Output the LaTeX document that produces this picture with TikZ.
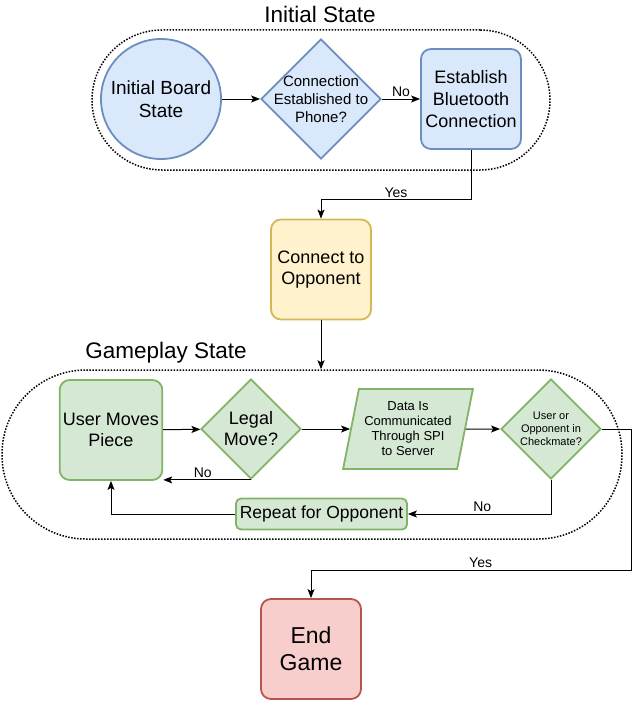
\documentclass[tikz,border=0pt]{standalone}
\usepackage{xcolor}
\usepackage{fontspec}
\setmainfont{Liberation Sans}
\usepackage{tikz}
\usetikzlibrary{shapes, arrows.meta, positioning, calc}
\definecolor{bluefill}{HTML}{DAE8FC}
\definecolor{blueline}{HTML}{6C8EBF}
\definecolor{greenfill}{HTML}{D5E8D4}
\definecolor{greenline}{HTML}{82B366}
\definecolor{yellowfill}{HTML}{FFF2CC}
\definecolor{yellowline}{HTML}{D6B656}
\definecolor{redfill}{HTML}{F8CECC}
\definecolor{redline}{HTML}{B85450}
\tikzset{
    startstate/.style={
        circle, draw=blueline, fill=bluefill, line width=1.8pt,
        minimum size=120pt, inner sep=2pt, align=center,
        font=\fontsize{19}{23}\selectfont
    },
    decision/.style={diamond, draw, line width=1.8pt, inner sep=0pt},
    process/.style={rectangle, rounded corners=10pt, draw, line width=1.8pt, minimum width=100pt, minimum height=100pt, align=center, font=\fontsize{18}{21.6}\selectfont},
    io/.style={trapezium, trapezium left angle=76, trapezium right angle=104, trapezium stretches=true, minimum width=130pt, minimum height=80pt, draw=greenline, fill=greenfill, line width=1.8pt, align=center, font=\fontsize{13}{15}\selectfont},
    % Group Styles
    group/.style={rectangle, draw, line width=1.5pt, dash pattern=on 1.5pt off 1.5pt},
    grouptitle/.style={font=\fontsize{22.5}{27}\selectfont},
    flow/.style={line width=1pt, -{Stealth[length=9pt, width=7pt, inset=2pt]}},
    tag/.style={font=\fontsize{14}{17}\selectfont, inner sep=2pt}
}
\begin{document}
\begin{tikzpicture}[x=1pt, y=-1pt]
        \useasboundingbox (0, 0) rectangle (640, 701);
        % Groups
        \node [group, rounded corners=70pt, minimum width=458pt, minimum height=140pt] (initgrp) at (321, 100) {};
        \node [group, rounded corners=84pt, minimum width=620pt, minimum height=169pt] (gamegrp) at (312, 454.5) {};
        \node [grouptitle] (inittitle) at (320, 14) {Initial State};
        \node [grouptitle] (gametitle) at (166, 353) {Gameplay State};

        % Layout
        \node [startstate] (board) at (161, 99) {Initial Board\\State};
        \node [decision, draw=blueline, fill=bluefill, minimum width=120pt, minimum height=120pt,
            label={[align=center, font=\fontsize{15}{18}\selectfont]center:Connection\\Established to\\Phone?}] (phone) at (321, 99) {};
        \node [process, draw=blueline, fill=bluefill] (bt) at (471, 99) {Establish\\Bluetooth\\Connection};
        \node [process, draw=yellowline, fill=yellowfill] (opp) at (321, 269.5) {Connect to\\Opponent};
        \node [process, draw=greenline, fill=greenfill] (user) at (111, 430) {User Moves\\Piece};
        \node [decision, draw=greenline, fill=greenfill, minimum width=100pt, minimum height=100pt,
            label={[align=center, font=\fontsize{18}{21}\selectfont]center:Legal\\Move?}] (legal) at (251, 429) {};
        \node [io] (data) at (408, 429) {Data Is\\Communicated\\Through SPI\\to Server};
        \node [decision, draw=greenline, fill=greenfill, minimum width=100pt, minimum height=100pt,
            label={[align=center, font=\fontsize{11}{13}\selectfont]center:User or\\Opponent in\\Checkmate?}] (mate) at (551, 429) {};
        \node [process, draw=greenline, fill=greenfill, rounded corners=5pt, minimum width=171pt, minimum height=31pt, font=\fontsize{17.5}{21}\selectfont] (again) at (321.5, 514) {Repeat for Opponent};
        \node [process, draw=redline, fill=redfill, font=\fontsize{23}{27}\selectfont] (endg) at (311, 649) {End\\Game};
        \coordinate (yesturn) at (631, 570);

        % Flows
        \draw [flow] (board) -- (phone);
        \draw [flow] (phone) -- node [tag, above] {No} (bt);
        \draw [flow] (bt.south) -- ++(0, 50) -| node [tag, above, pos=0.25] {Yes} (opp.north);
        \draw [flow] (opp.south) -- (opp.south |- gamegrp.north);
        \draw [flow] (user) -- (legal);
        \draw [flow] (legal) -- (data);
        \draw [flow] (data) -- (mate);
        \draw [flow] (legal.south) -- node [tag, above, pos=0.55] {No} (legal.south -| user.east);
        \draw [flow] (mate.south) |- node [tag, above, pos=0.74] {No} (again.east);
        \draw [flow] (again.west) -| (user.south);
        \draw [flow] (mate.east) -| (yesturn) -| node [tag, above, pos=0.235] {Yes} (endg.north);
    \end{tikzpicture}
\end{document}
